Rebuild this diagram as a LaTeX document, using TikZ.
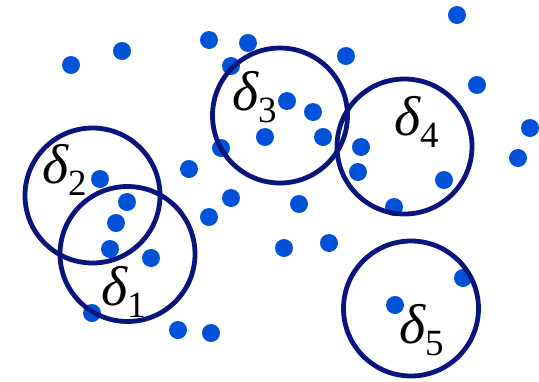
\documentclass[tikz,border=0pt]{standalone}
\usepackage{fontspec}
\setmainfont{Liberation Serif}
\definecolor{dotblue}{RGB}{0,82,217}
\definecolor{ringnavy}{RGB}{10,20,125}
\newcommand{\dlab}[1]{{\itshape δ}\raisebox{-12pt}{\fontsize{37}{40}\selectfont #1}}
\tikzset{
  ring/.style={draw=ringnavy, line width=4.8pt, circle, minimum size=135pt, inner sep=0pt},
  dlabel/.style={anchor=base west, inner sep=0pt, font=\fontsize{56}{60}\selectfont},
}
\begin{document}
\begin{tikzpicture}[x=1pt,y=-1pt]
\useasboundingbox (0,0) rectangle (539,381);
% dots
\foreach \px/\py in {71/65, 122/51, 209/40, 248/43, 231/66, 265/137, 221/148, 189/169, 100/179,
  457/15, 346/56, 477/85, 287/101, 313/112, 323/137, 361/147, 358/172, 530/128, 518/158, 444/180,
  127/202, 116/223, 110/249, 151/258, 209/217, 231/198, 92/313, 178/330, 211/333,
  299/204, 394/207, 284/248, 329/243, 463/278, 395/305}
  \fill[dotblue] (\px,\py) circle (9pt);
% circles
\node[ring] (c1) at (127.5,254) {};
\node[ring] (c2) at (92.5,195.5) {};
\node[ring] (c3) at (280,115.5) {};
\node[ring] (c4) at (404.5,146.5) {};
\node[ring] (c5) at (411,308.5) {};
% labels
\node[dlabel] (l1) at (101,305) {\dlab{1}};
\node[dlabel] (l2) at (42,183) {\dlab{2}};
\node[dlabel] (l3) at (232,110) {\dlab{3}};
\node[dlabel] (l4) at (394,135) {\dlab{4}};
\node[dlabel] (l5) at (399,343) {\dlab{5}};
\end{tikzpicture}
\end{document}
